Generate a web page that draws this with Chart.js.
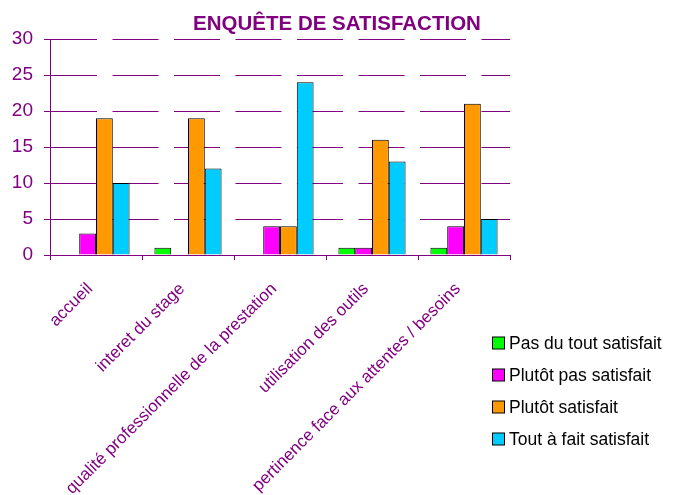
<!DOCTYPE html>
<html>
<head>
<meta charset="utf-8">
<script src="https://cdn.jsdelivr.net/npm/chart.js@4.4.0/dist/chart.umd.min.js"></script>
<style>
  html, body { margin: 0; padding: 0; background: #fff; }
  #wrap { width: 674px; height: 495px; }
</style>
</head>
<body>
<div id="wrap"><canvas id="satisfactionChart" width="674" height="495"></canvas></div>
<script>
// categories
const categories = [
  'accueil',
  'interet du stage',
  'qualité professionnelle de la prestation',
  'utilisation des outils',
  'pertinence face aux attentes / besoins'
];

// series values
const pasDuTout = [0, 1, 0, 1, 1];
const plutotPas = [3, 0, 4, 1, 4];
const plutotSatisfait = [19, 19, 4, 16, 21];
const toutAFait = [10, 12, 24, 13, 5];

// series names
const seriesNames = ['Pas du tout satisfait', 'Plutôt pas satisfait', 'Plutôt satisfait', 'Tout à fait satisfait'];

// y ticks
const yMin = 0, yMax = 30, yStep = 5;

const chartTitle = 'ENQUÊTE DE SATISFACTION';
const purple = '#800080';
const colors = ['#00FF00', '#FF00FF', '#FF9900', '#00CCFF'];
const fontFamily = '"Liberation Sans", Arial, sans-serif';

// title centred on the whole canvas + legend at the right, over the label area
const titleAndLegend = {
  id: 'titleAndLegend',
  afterDraw(chart) {
    const ctx = chart.ctx;
    ctx.save();
    ctx.font = 'bold 20.5px ' + fontFamily;
    ctx.fillStyle = purple;
    ctx.textAlign = 'center';
    ctx.textBaseline = 'alphabetic';
    ctx.fillText(chartTitle, chart.width / 2, 30);

    ctx.font = '17.5px ' + fontFamily;
    ctx.textBaseline = 'middle';
    ctx.textAlign = 'left';
    chart.data.datasets.forEach(function(ds, i) {
      const y = 343 + i * 32;
      ctx.fillStyle = ds.backgroundColor;
      ctx.fillRect(492.5, y - 6, 12, 12);
      ctx.strokeStyle = '#000';
      ctx.lineWidth = 1;
      ctx.strokeRect(492.5, y - 6, 12, 12);
      ctx.fillStyle = '#000';
      ctx.fillText(ds.label, 509, y + 1);
    });
    ctx.restore();
  }
};

const data = [pasDuTout, plutotPas, plutotSatisfait, toutAFait];

const ctx = document.getElementById('satisfactionChart').getContext('2d');
const satisfactionChart = new Chart(ctx, {
  type: 'bar',
  data: {
    labels: categories,
    datasets: data.map(function(values, i) {
      return {
        label: seriesNames[i],
        data: values,
        backgroundColor: colors[i],
        borderColor: '#000',
        borderWidth: 1,
        categoryPercentage: 0.73,
        barPercentage: 1
      };
    })
  },
  options: {
    responsive: false,
    animation: false,
    layout: {
      padding: { left: 0, right: 164, top: 39, bottom: 0 }
    },
    scales: {
      x: {
        grid: {
          offset: true,
          drawOnChartArea: false,
          drawTicks: true,
          tickLength: 5,
          color: purple
        },
        border: { color: purple, width: 1 },
        ticks: {
          color: purple,
          font: { family: fontFamily, size: 17 },
          maxRotation: 45,
          minRotation: 45,
          autoSkip: false,
          padding: 19,
          labelOffset: -6
        },
        afterFit: function(scale) { scale.height = 240; }
      },
      y: {
        min: yMin,
        max: yMax,
        ticks: {
          stepSize: yStep,
          color: purple,
          padding: 11,
          font: { family: fontFamily, size: 19 }
        },
        grid: {
          color: purple,
          lineWidth: 1,
          tickLength: 6,
          tickBorderDash: []
        },
        border: { color: purple, width: 1, dash: [46, 15.5] },
        afterFit: function(scale) { scale.width = 50; }
      }
    },
    plugins: {
      title: { display: false },
      legend: { display: false },
      tooltip: { enabled: false }
    }
  },
  plugins: [titleAndLegend]
});
</script>
</body>
</html>
